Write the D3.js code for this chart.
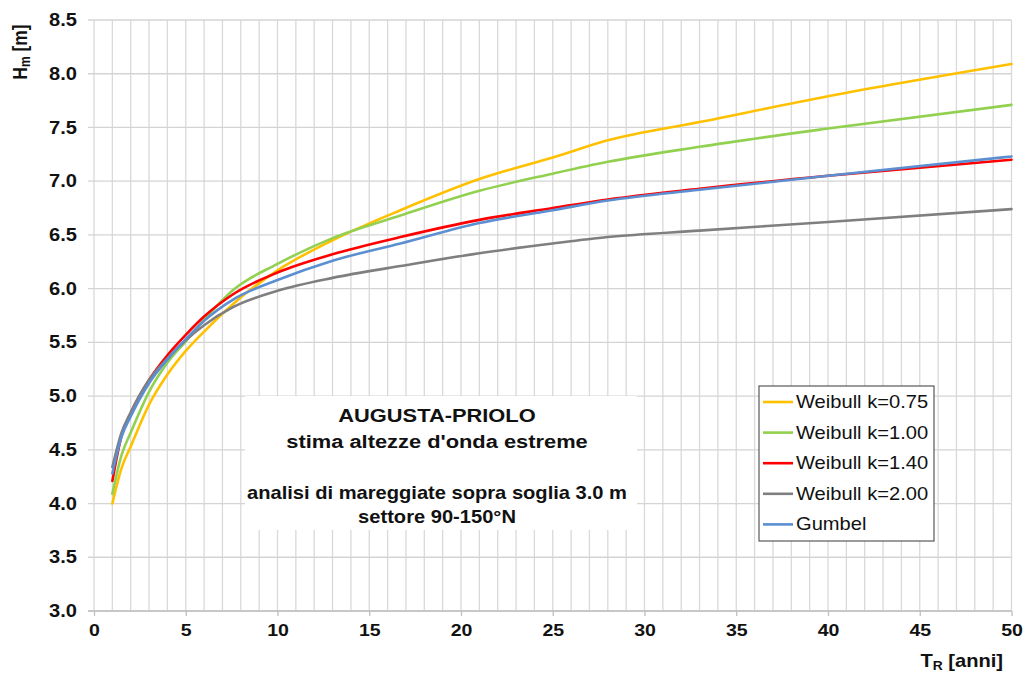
<!DOCTYPE html>
<html>
<head>
<meta charset="utf-8">
<script src="https://cdn.jsdelivr.net/npm/d3@7/dist/d3.min.js"></script>
<style>
  html, body { margin: 0; padding: 0; background: #fff; }
  svg { display: block; }
  text { font-family: Arial, "Liberation Sans", sans-serif; fill: #111; }
</style>
</head>
<body>
<svg id="chart" width="1027" height="673"></svg>
<script>
// Return periods (years) at which the curves are sampled
const returnPeriods = [1, 1.5, 2, 3, 4, 5, 6, 7.6, 10, 13, 16.7, 21, 25, 28, 33, 40, 50];

// Estimated extreme wave heights Hm [m] for each distribution
const weibull075 = [4.00, 4.33, 4.53, 4.92, 5.20, 5.42, 5.60, 5.86, 6.17, 6.45, 6.73, 7.02, 7.22, 7.38, 7.55, 7.79, 8.09];
const weibull100 = [4.09, 4.45, 4.66, 5.04, 5.31, 5.51, 5.71, 5.99, 6.23, 6.47, 6.68, 6.91, 7.07, 7.18, 7.32, 7.49, 7.71];
const weibull140 = [4.21, 4.63, 4.84, 5.15, 5.38, 5.57, 5.74, 5.95, 6.15, 6.32, 6.48, 6.64, 6.75, 6.83, 6.93, 7.05, 7.20];
const weibull200 = [4.34, 4.66, 4.85, 5.15, 5.35, 5.52, 5.66, 5.83, 5.98, 6.10, 6.21, 6.33, 6.42, 6.48, 6.54, 6.62, 6.74];
const gumbel     = [4.28, 4.62, 4.81, 5.12, 5.34, 5.53, 5.70, 5.90, 6.08, 6.26, 6.42, 6.61, 6.73, 6.82, 6.92, 7.05, 7.23];

const seriesNames = ["Weibull k=0.75", "Weibull k=1.00", "Weibull k=1.40", "Weibull k=2.00", "Gumbel"];
const seriesColors = ["#FFC000", "#92D050", "#FF0000", "#7F7F7F", "#5B8FD2"];
const seriesValues = [weibull075, weibull100, weibull140, weibull200, gumbel];

const xTicks = [0, 5, 10, 15, 20, 25, 30, 35, 40, 45, 50];
const yTicks = [3.0, 3.5, 4.0, 4.5, 5.0, 5.5, 6.0, 6.5, 7.0, 7.5, 8.0, 8.5];

const titleLines = ["AUGUSTA-PRIOLO", "stima altezze d'onda estreme"];
const noteLines = ["analisi di mareggiate sopra soglia 3.0 m", "settore 90-150°N"];

const SX = 1.15; // horizontal text stretch

const svg = d3.select("#chart");
const x = d3.scaleLinear().domain([0, 50]).range([94, 1011.5]);
const y = d3.scaleLinear().domain([3, 8.5]).range([611, 20]);

// Grid: vertical every year, horizontal every 0.5 m
const grid = svg.append("g");
grid.selectAll("line.v").data(d3.range(0, 51)).join("line")
  .attr("x1", d => x(d)).attr("x2", d => x(d))
  .attr("y1", y(8.5)).attr("y2", y(3))
  .attr("stroke", "#D9D9D9").attr("stroke-width", 1.3);
grid.selectAll("line.h").data(yTicks).join("line")
  .attr("x1", 88).attr("x2", x(50))
  .attr("y1", d => y(d)).attr("y2", d => y(d))
  .attr("stroke", "#D4D4D4").attr("stroke-width", 1.3);

// Bottom axis
const xAxis = d3.axisBottom(x).tickValues(xTicks).tickSize(5).tickPadding(8).tickFormat(d3.format("d"));
const gx = svg.append("g").attr("transform", `translate(0,${y(3)})`).call(xAxis);
gx.select(".domain").attr("stroke", "#BFBFBF").attr("stroke-width", 1.3).attr("d", `M88,0H${x(50)}`);
gx.selectAll(".tick line").attr("stroke", "#BFBFBF").attr("stroke-width", 1.3);
gx.selectAll(".tick text")
  .attr("font-size", 17).attr("font-weight", "bold").attr("fill", "#111")
  .attr("font-family", "Arial, 'Liberation Sans', sans-serif")
  .attr("transform", `scale(${SX},1)`);

// Left tick labels
const yAxis = d3.axisLeft(y).tickValues(yTicks).tickSize(0).tickPadding(0).tickFormat(d3.format(".1f"));
const gy = svg.append("g").attr("transform", "translate(77,0)").call(yAxis);
gy.select(".domain").remove();
gy.selectAll(".tick text")
  .attr("font-size", 17.5).attr("font-weight", "bold").attr("fill", "#111")
  .attr("font-family", "Arial, 'Liberation Sans', sans-serif")
  .attr("transform", `scale(${SX},1)`);

// Axis titles
const yTitle = svg.append("text")
  .attr("transform", `translate(27,52) rotate(-90) scale(1,${SX})`)
  .attr("text-anchor", "middle").attr("font-size", 17.5).attr("font-weight", "bold");
yTitle.append("tspan").text("H");
yTitle.append("tspan").attr("font-size", 12).attr("dy", 3).text("m");
yTitle.append("tspan").attr("dy", -3).text(" [m]");

const xTitle = svg.append("text")
  .attr("transform", `translate(1003,667) scale(${SX},1)`)
  .attr("text-anchor", "end").attr("font-size", 17.5).attr("font-weight", "bold");
xTitle.append("tspan").text("T");
xTitle.append("tspan").attr("font-size", 12).attr("dy", 3).text("R");
xTitle.append("tspan").attr("dy", -3).text(" [anni]");

// Annotation box
svg.append("rect").attr("x", 245).attr("y", 396).attr("width", 392).attr("height", 134).attr("fill", "#fff");
const cx = 437;
titleLines.forEach((t, i) => {
  svg.append("text").attr("transform", `translate(${cx},${422 + i * 26}) scale(${SX},1)`)
    .attr("text-anchor", "middle").attr("font-size", 19).attr("font-weight", "bold").text(t);
});
noteLines.forEach((t, i) => {
  svg.append("text").attr("transform", `translate(${cx},${499 + i * 24}) scale(${SX},1)`)
    .attr("text-anchor", "middle").attr("font-size", 17.5).attr("font-weight", "bold").text(t);
});

// Curves
const line = d3.line().x(d => x(d[0])).y(d => y(d[1])).curve(d3.curveMonotoneX);
seriesValues.forEach((vals, i) => {
  svg.append("path")
    .datum(returnPeriods.map((t, j) => [t, vals[j]]))
    .attr("d", line).attr("fill", "none")
    .attr("stroke", seriesColors[i]).attr("stroke-width", 2.6)
    .attr("stroke-linejoin", "round").attr("stroke-linecap", "round");
});

// Legend
const lg = svg.append("g").attr("transform", "translate(759,386)");
lg.append("rect").attr("width", 175).attr("height", 155)
  .attr("fill", "#fff").attr("stroke", "#595959").attr("stroke-width", 1.2);
seriesNames.forEach((n, i) => {
  const gy0 = 16 + i * 30.6;
  lg.append("line").attr("x1", 4).attr("x2", 34).attr("y1", gy0).attr("y2", gy0)
    .attr("stroke", seriesColors[i]).attr("stroke-width", 2.6);
  lg.append("text").attr("transform", `translate(37,${gy0 + 6}) scale(${SX},1)`)
    .attr("font-size", 17.5).text(n);
});
</script>
</body>
</html>
